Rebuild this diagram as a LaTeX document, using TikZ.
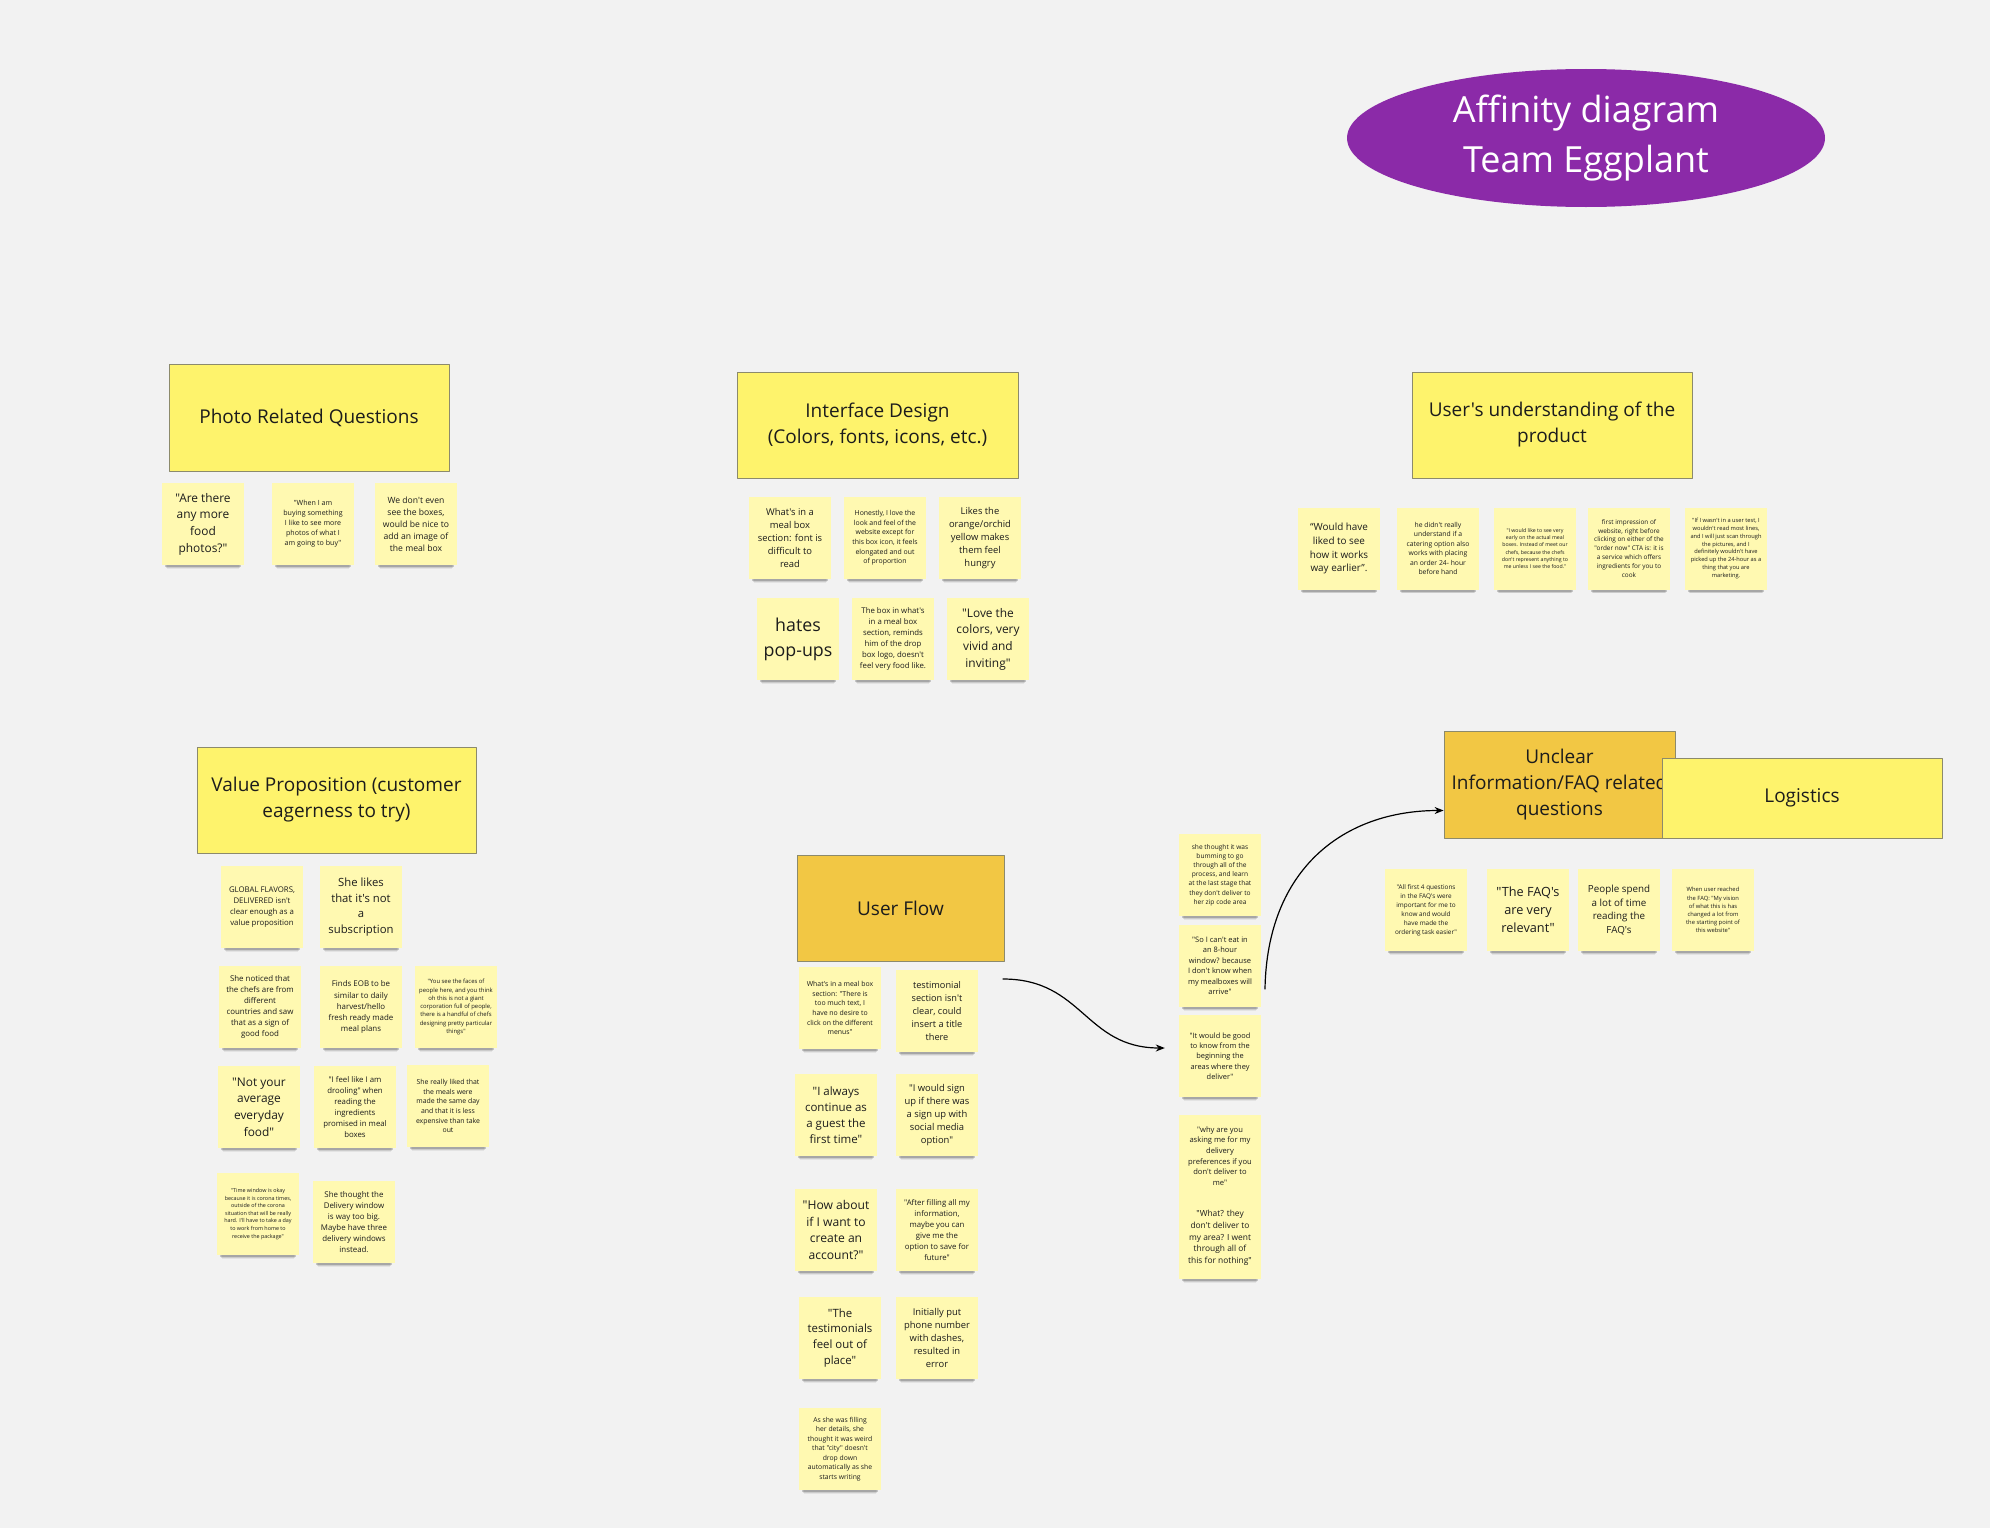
\documentclass[tikz,border=0pt]{standalone}
\usepackage{fontspec}
\setmainfont{Open Sans}[Ligatures=TeXOff]
\usetikzlibrary{arrows.meta,shadows,shapes.geometric}
\definecolor{canvas}{HTML}{F2F2F2}
\definecolor{sticky}{HTML}{FFF9B1}
\definecolor{headyellow}{HTML}{FEF36C}
\definecolor{headorange}{HTML}{F2C744}
\definecolor{headedge}{HTML}{8C8A6C}
\definecolor{eggplant}{HTML}{8B2AA8}
\definecolor{ink}{HTML}{1C1C1C}
\newcommand\notesize[1]{\fontsize{#1}{\dimexpr #1pt*14/10\relax}\selectfont}

\begin{document}
\begin{tikzpicture}[x=1pt,y=-1pt,line cap=round,line join=round,
    note/.style={fill=sticky,text=ink,align=center,inner sep=2pt,
      minimum width=82,minimum height=82,
      general shadow={fill=black,opacity=.06,shadow scale=.88,shadow yshift=-10pt},
      general shadow={fill=black,opacity=.10,shadow scale=.9,shadow yshift=-8pt},
      general shadow={fill=black,opacity=.18,shadow scale=.93,shadow yshift=-5.5pt},
      font=\notesize{#1}},
    head/.style={draw=headedge,line width=.8pt,fill=headyellow,text=ink,align=center,
      minimum width=280,minimum height=107,font=\fontsize{19}{26}\selectfont},
    link/.style={draw=black,line width=1.2pt,-{Stealth[length=9pt,width=7pt]}}]
  \useasboundingbox[fill=canvas] (0,0) rectangle (1990,1528);

  % title
  \node (title) [ellipse,fill=eggplant,text=white,align=center,inner sep=0pt,
    minimum width=478,minimum height=138,font=\fontsize{36}{49.5}\selectfont]
    at (1586,138) {Affinity diagram\\Team Eggplant};

  % photo related questions
  \node (hPhoto) [head] at (309,417.5) {Photo Related Questions};
  \node (photoA) [note=11.9] at (203,524) {"Are there\\any more\\food\\photos?"};
  \node (photoB) [note=7.1] at (313,524) {"When I am\\buying something\\I like to see more\\photos of what I\\am going to buy"};
  \node (photoC) [note=8.6] at (416,524) {We don't even\\see the boxes,\\would be nice to\\add an image of\\the meal box};

  % interface design
  \node (hIface) [head,minimum width=281,minimum height=106] at (877.5,425) {Interface Design\\(Colors, fonts, icons, etc.)};
  \node (ifaceA) [note=9.4] at (790,538) {What's in a\\meal box\\section: font is\\difficult to\\read};
  \node (ifaceB) [note=6.9] at (885,538) {Honestly, I love the\\look and feel of the\\website except for\\this box icon, it feels\\elongated and out\\of proportion};
  \node (ifaceC) [note=9.4] at (980,538) {Likes the\\orange/orchid\\yellow makes\\them feel\\hungry};
  \node (ifaceD) [note=17.8] at (798,639) {hates\\pop-ups};
  \node (ifaceE) [note=7.8] at (893,639) {The box in what's\\in a meal box\\section, reminds\\him of the drop\\box logo, doesn't\\feel very food like.};
  \node (ifaceF) [note=11.9] at (988,639) {"Love the\\colors, very\\vivid and\\inviting"};

  % user's understanding
  \node (hUser) [head,minimum height=106] at (1552,425) {User's understanding of the\\product};
  \node (userA) [note=9.9] at (1339,548.5) {“Would have\\liked to see\\how it works\\way earlier”.};
  \node (userB) [note=6.8] at (1438,548.5) {he didn't really\\understand if a\\catering option also\\works with placing\\an order 24- hour\\before hand};
  \node (userC) [note=5.2] at (1535,548.5) {"I would like to see very\\early on the actual meal\\boxes. Instead of meet our\\chefs, because the chefs\\don't represent anything to\\me unless I see the food."};
  \node (userD) [note=6.4] at (1629,548.5) {first impression of\\website, right before\\clicking on either of the\\"order now" CTA is: it is\\a service which offers\\ingredients for you to\\cook};
  \node (userE) [note=5.7] at (1726,548.5) {"If I wasn't in a user test, I\\wouldn't read most lines,\\and I will just scan through\\the pictures, and I\\definitely wouldn't have\\picked up the 24-hour as a\\thing that you are\\marketing.};

  % value proposition
  \node (hValue) [head,minimum width=279,minimum height=106] at (336.5,800) {Value Proposition (customer\\eagerness to try)};
  \node (valueA) [note=7.8] at (262,907) {GLOBAL FLAVORS,\\DELIVERED isn't\\clear enough as a\\value proposition};
  \node (valueB) [note=11.3] at (361,907) {She likes\\that it's not\\a\\subscription};
  \node (valueC) [note=7.9] at (260,1007) {She noticed that\\the chefs are from\\different\\countries and saw\\that as a sign of\\good food};
  \node (valueD) [note=7.9] at (361,1007) {Finds EOB to be\\similar to daily\\harvest/hello\\fresh ready made\\meal plans};
  \node (valueE) [note=5.9] at (456,1007) {"You see the faces of\\people here, and you think\\oh this is not a giant\\corporation full of people,\\there is a handful of chefs\\designing pretty particular\\things"};
  \node (valueF) [note=11.9] at (259,1107) {"Not your\\average\\everyday\\food"};
  \node (valueG) [note=7.8] at (355,1107) {"I feel like I am\\drooling" when\\reading the\\ingredients\\promised in meal\\boxes};
  \node (valueH) [note=6.9] at (448,1106) {She really liked that\\the meals were\\made the same day\\and that it is less\\expensive than take\\out};
  \node (valueI) [note=5.4] at (258,1214) {"Time window is okay\\because it is corona times,\\outside of the corona\\situation that will be really\\hard. I'll have to take a day\\to work from home to\\receive the package"};
  \node (valueJ) [note=7.9] at (354,1222) {She thought the\\Delivery window\\is way too big.\\Maybe have three\\delivery windows\\instead.};

  % user flow
  \node (hFlow) [head,fill=headorange,minimum width=207,minimum height=106] at (900.5,908) {User Flow};
  \node (flowA) [note=6.9] at (840,1008) {What's in a meal box\\section: "There is\\too much text, I\\have no desire to\\click on the different\\menus"};
  \node (flowB) [note=9.2] at (937,1011) {testimonial\\section isn't\\clear, could\\insert a title\\there};
  \node (flowC) [note=11.5] at (836,1115) {"I always\\continue as\\a guest the\\first time"};
  \node (flowD) [note=9.4] at (937,1115) {"I would sign\\up if there was\\a sign up with\\social media\\option"};
  \node (flowE) [note=12.1] at (836,1230) {"How about\\if I want to\\create an\\account?"};
  \node (flowF) [note=7.8] at (937,1230) {"After filling all my\\information,\\maybe you can\\give me the\\option to save for\\future"};
  \node (flowG) [note=11.4] at (840,1338) {"The\\testimonials\\feel out of\\place"};
  \node (flowH) [note=9.4] at (937,1338) {Initially put\\phone number\\with dashes,\\resulted in\\error};
  \node (flowI) [note=6.8] at (840,1449) {As she was filling\\her details, she\\thought it was weird\\that "city" doesn't\\drop down\\automatically as she\\starts writing};

  % delivery area column
  \node (areaA) [note=6.6] at (1220,875) {she thought it was\\bumming to go\\through all of the\\process, and learn\\at the last stage that\\they don't deliver to\\her zip code area};
  \node (areaB) [note=7.5] at (1220,966) {"So I can't eat in\\an 8-hour\\window? because\\I don't know when\\my mealboxes will\\arrive"};
  \node (areaC) [note=7.4] at (1220,1056) {"It would be good\\to know from the\\beginning the\\areas where they\\deliver"};
  \node (areaD) [note=7.6] at (1220,1156) {"why are you\\asking me for my\\delivery\\preferences if you\\don't deliver to\\me"};
  \node (areaE) [note=8.4] at (1220,1238) {"What? they\\don't deliver to\\my area? I went\\through all of\\this for nothing"};

  % unclear information and logistics
  \node (hFAQ) [head,fill=headorange,minimum width=231] at (1559.5,784.5) {Unclear\\Information/FAQ related\\questions};
  \node (hLog) [head,minimum height=80] at (1802,798) {Logistics};
  \node (faqA) [note=6.4] at (1426,910) {"All first 4 questions\\in the FAQ's  were\\important for me to\\know and would\\have made the\\ordering task easier"};
  \node (faqB) [note=12.7] at (1528,910) {"The FAQ's\\are very\\relevant"};
  \node (faqC) [note=9.8] at (1619,910) {People spend\\a lot of time\\reading the\\FAQ's};
  \node (faqD) [note=5.8] at (1713,910) {When user reached\\the FAQ: "My vision\\of what this is has\\changed a lot from\\the starting point of\\this website"};

  % connectors
  \coordinate (flowOut) at (1003,979);
  \coordinate (areaOut) at (1265,989);
  \draw[link] (flowOut) .. controls +(80,0) and +(-80,0) .. ([xshift=-14pt,yshift=8pt]areaC.west);
  \draw[link] (areaOut) .. controls +(2,-120) and +(-100,0) .. ([yshift=-26pt]hFAQ.west);
\end{tikzpicture}
\end{document}
